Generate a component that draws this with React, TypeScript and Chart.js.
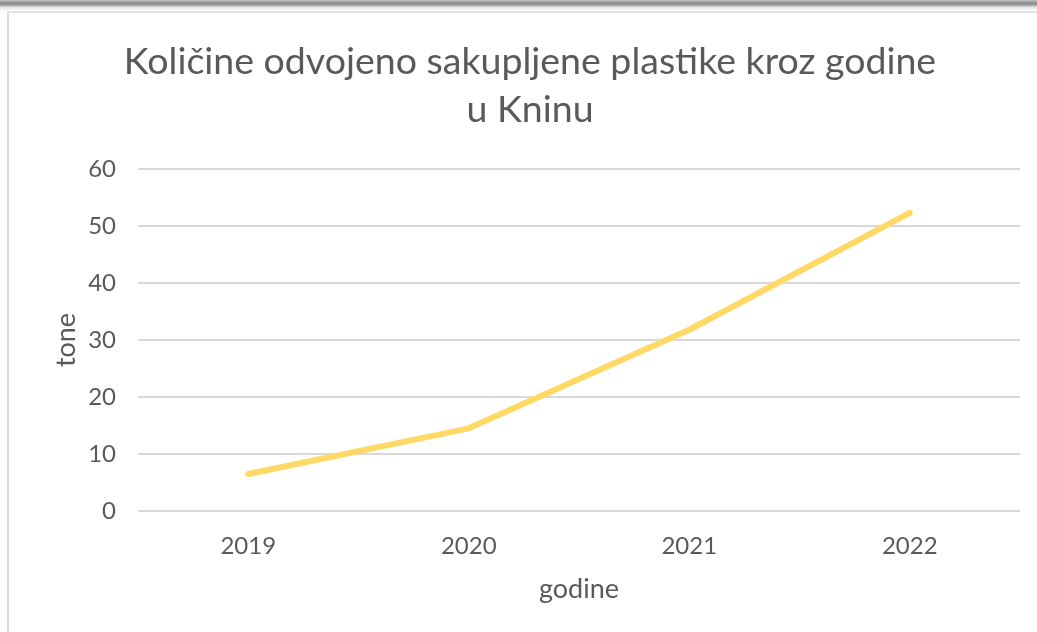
import React, { useEffect, useRef } from "react";
import { Chart, registerables } from "chart.js";

Chart.register(...registerables);

const years = ["2019", "2020", "2021", "2022"];
const tone = [6.5, 14.5, 31.8, 52.3];
const titleLines = ["Količine odvojeno sakupljene plastike kroz godine", "u Kninu"];
const xTitle = "godine";
const yTitle = "tone";

const FONT = "Lato, 'Open Sans', sans-serif";
const TEXT = "#595959";
const GRID = "#d9d9d9";

export default function App() {
  const ref = useRef<HTMLCanvasElement>(null);
  useEffect(() => {
    document.body.style.margin = "0";
    const ctx = ref.current!;
    const chart = new Chart(ctx, {
      type: "line",
      data: {
        labels: years,
        datasets: [
          {
            data: tone,
            borderColor: "#FFD966",
            backgroundColor: "#FFD966",
            borderWidth: 6,
            pointRadius: 0,
            pointHoverRadius: 0,
            tension: 0,
            borderCapStyle: "round",
            borderJoinStyle: "round",
          },
        ],
      },
      options: {
        animation: false,
        responsive: false,
        maintainAspectRatio: false,
        layout: { padding: { left: 40, right: 17, top: 0, bottom: 21 } },
        plugins: {
          legend: { display: false },
          tooltip: { enabled: false },
          title: {
            display: true,
            text: titleLines,
            color: TEXT,
            font: { family: FONT, size: 37.5, weight: "normal", lineHeight: 48 / 37.5 },
            padding: { top: 38, bottom: 35 },
          },
        },
        scales: {
          x: {
            offset: true,
            grid: { display: false, drawTicks: false },
            border: { display: false },
            ticks: { color: TEXT, font: { family: FONT, size: 24 }, padding: 21, maxRotation: 0 },
            title: {
              display: true,
              text: xTitle,
              color: TEXT,
              font: { family: FONT, size: 27, lineHeight: 1.2 },
              padding: { top: 0, bottom: 6 },
            },
            afterFit: (s: any) => {
              s.height = 100;
            },
          },
          y: {
            min: 0,
            max: 60,
            ticks: { stepSize: 10, color: TEXT, font: { family: FONT, size: 24 }, padding: 22 },
            grid: { color: GRID, lineWidth: 2, drawTicks: false },
            border: { display: false },
            title: {
              display: true,
              text: yTitle,
              color: TEXT,
              font: { family: FONT, size: 27, lineHeight: 1.2 },
              padding: { top: 10, bottom: 0 },
            },
            afterFit: (s: any) => {
              s.width = 98;
            },
          },
        },
      },
    });
    return () => chart.destroy();
  }, []);

  return (
    <div style={{ position: "relative", width: 1037, height: 632, background: "#fff", overflow: "hidden" }}>
      <div
        style={{
          position: "absolute",
          left: 0,
          top: 0,
          width: 1037,
          height: 10,
          background:
            "linear-gradient(to bottom, #c4c4c4 0px, #8a8a8a 3px, #9c9c9c 5px, #e2e2e2 7px, #f6f6f6 10px)",
        }}
      />
      <div
        style={{
          position: "absolute",
          left: 7,
          top: 11,
          width: 1040,
          height: 640,
          borderLeft: "2px solid #d9d9d9",
          borderTop: "2px solid #e0e0e0",
          boxSizing: "border-box",
        }}
      />
      <canvas ref={ref} width={1037} height={632} style={{ position: "absolute", left: 0, top: 0 }} />
    </div>
  );
}
